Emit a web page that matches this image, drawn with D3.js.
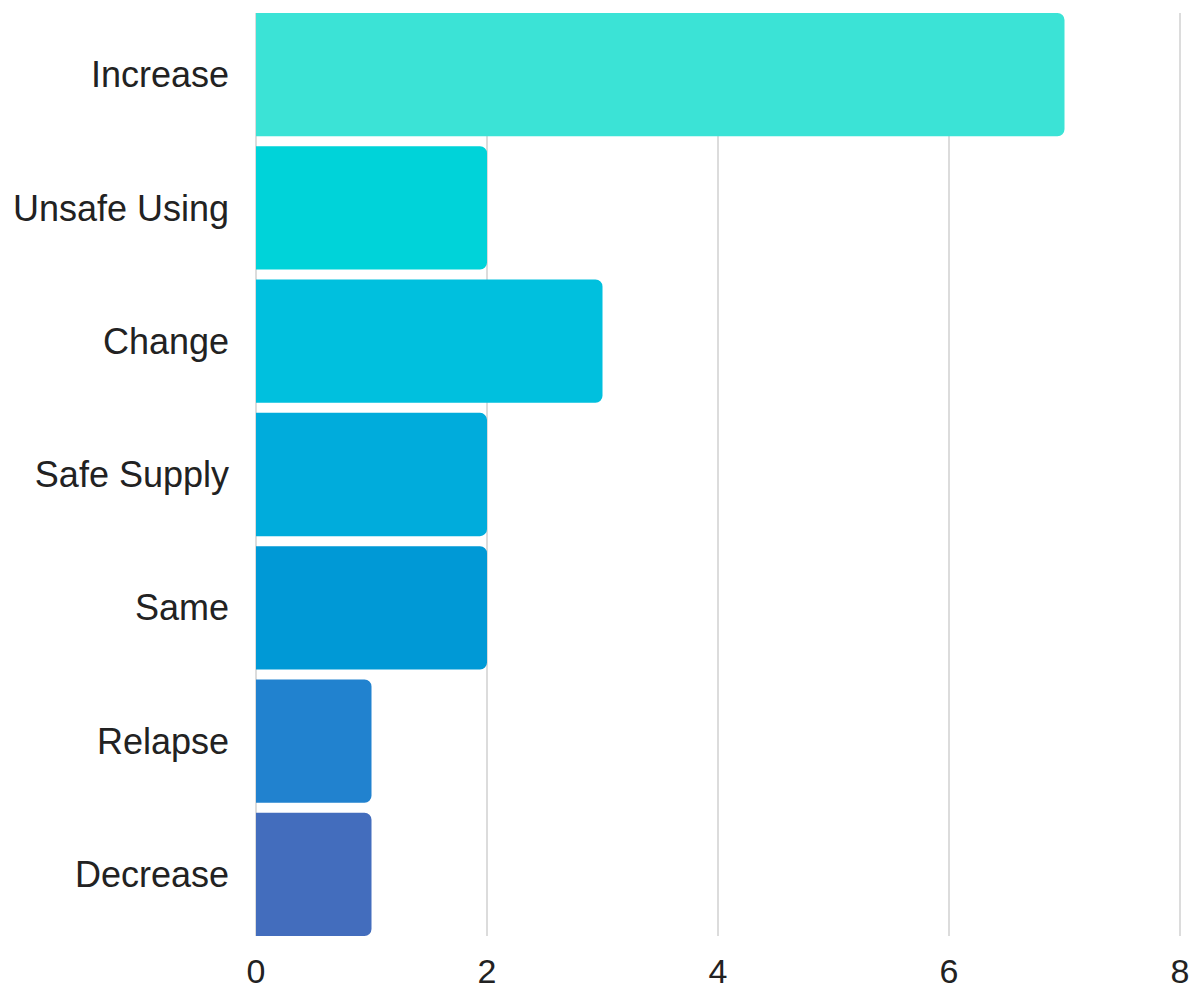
<!DOCTYPE html>
<html>
<head>
<meta charset="utf-8">
<script src="https://cdn.jsdelivr.net/npm/d3@7"></script>
<style>
  html, body { margin: 0; padding: 0; background: #fff; }
  svg { display: block; font-family: "Liberation Sans", Arial, sans-serif; }
</style>
</head>
<body>
<svg id="chart" width="1194" height="995"></svg>
<script>
const categories = ["Increase", "Unsafe Using", "Change", "Safe Supply", "Same", "Relapse", "Decrease"];
const values = [7, 2, 3, 2, 2, 1, 1];
const colors = ["#3be3d6", "#00d3d9", "#00c0de", "#00acdc", "#0099d6", "#2182cf", "#436dbd"];
const xTicks = [0, 2, 4, 6, 8];

(function () {
const svg = d3.select("#chart");
const mLeft = 256, mRight = 1180, mTop = 13, mBottom = 936;

const x = d3.scaleLinear().domain([0, 8]).range([mLeft, mRight]);
const y = d3.scaleBand().domain(categories).range([mTop, mBottom]).paddingInner(0.075).paddingOuter(0);

// gridlines
svg.append("g").selectAll("line").data(xTicks).join("line")
  .attr("x1", d => x(d)).attr("x2", d => x(d))
  .attr("y1", mTop).attr("y2", mBottom)
  .attr("stroke", "#dcdcdc").attr("stroke-width", 2);

// bars with rounded right corners
const r = 7;
function barPath(x0, x1, y0, h) {
  const rr = Math.min(r, (x1 - x0) / 2, h / 2);
  return `M${x0},${y0}H${x1 - rr}A${rr},${rr} 0 0 1 ${x1},${y0 + rr}V${y0 + h - rr}A${rr},${rr} 0 0 1 ${x1 - rr},${y0 + h}H${x0}Z`;
}
svg.append("g").selectAll("path").data(categories).join("path")
  .attr("d", (c, i) => barPath(x(0), x(values[i]), y(c), y.bandwidth()))
  .attr("fill", (c, i) => colors[i]);

// y labels
svg.append("g").selectAll("text").data(categories).join("text")
  .attr("x", 229)
  .attr("y", c => y(c) + y.bandwidth() / 2)
  .attr("dy", "0.35em")
  .attr("text-anchor", "end")
  .attr("font-size", 36)
  .attr("fill", "#222")
  .text(c => c);

// x tick labels
svg.append("g").selectAll("text").data(xTicks).join("text")
  .attr("x", d => x(d))
  .attr("y", 983)
  .attr("text-anchor", "middle")
  .attr("font-size", 34)
  .attr("fill", "#222")
  .text(d => d);
})();
</script>
</body>
</html>
